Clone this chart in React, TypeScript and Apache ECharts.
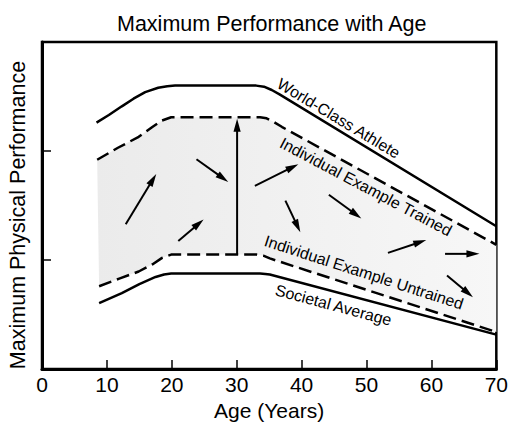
import React, { useEffect, useRef } from "react";
import * as echarts from "echarts";

const FONT = "'Liberation Sans', Arial, sans-serif";

const xTicks = [0, 10, 20, 30, 40, 50, 60, 70];

const worldAge = [8.4, 10.3, 12.3, 14.1, 15.9, 17.9, 19.3, 20.5, 33, 34.2, 35.4, 36.6, 70];
const worldPerf = [2.26, 2.33, 2.41, 2.48, 2.54, 2.58, 2.595, 2.6, 2.6, 2.59, 2.56, 2.52, 1.31];

const trainedAge = [8.5, 11.7, 14.9, 17, 18.5, 19.9, 33.6, 34.6, 35.6, 37, 70];
const trainedPerf = [1.92, 2.03, 2.13, 2.22, 2.28, 2.31, 2.31, 2.3, 2.27, 2.22, 1.14];

const untrainedAge = [8.8, 11.9, 14.9, 17, 18.5, 19.9, 33.1, 34.1, 35.1, 70];
const untrainedPerf = [0.76, 0.83, 0.895, 0.96, 1.02, 1.05, 1.05, 1.04, 1.015, 0.34];

const societalAge = [8.8, 12.3, 15, 17.5, 18.8, 19.9, 33.6, 34.4, 35.1, 70];
const societalPerf = [0.605, 0.696, 0.78, 0.845, 0.868, 0.876, 0.876, 0.873, 0.867, 0.316];

// arrows: tail (age, perf) -> tip (age, perf)
const arrowTailAge = [12.9, 23.8, 30.06, 21.0, 32.8, 37.5, 44.2, 53.3, 62.1, 62.4];
const arrowTailPerf = [1.328, 1.925, 1.05, 1.175, 1.681, 1.545, 1.599, 1.066, 1.057, 0.858];
const arrowTipAge = [17.6, 28.7, 30.06, 24.9, 39.5, 39.8, 49.2, 59.2, 67.4, 66.4];
const arrowTipPerf = [1.789, 1.717, 2.295, 1.373, 1.879, 1.256, 1.382, 1.184, 1.057, 0.66];

const labelNames = [
  "World-Class Athlete",
  "Individual Example Trained",
  "Individual Example Untrained",
  "Societal Average",
];
const labelAge = [45.7, 49.9, 49.6, 44.9];
const labelPerf = [2.3, 1.672, 0.886, 0.587];
const labelAngle = [31, 28, 18, 15];

const zip = (a: number[], b: number[]) => a.map((v, i) => [v, b[i]]);

export default function App() {
  const ref = useRef<HTMLDivElement>(null);
  useEffect(() => {
    document.body.style.margin = "0";
    const chart = echarts.init(ref.current!, null, { renderer: "svg" });
    const lineBase = {
      type: "line",
      symbol: "none",
      smooth: false,
      z: 5,
    };
    chart.setOption({
      animation: false,
      backgroundColor: "#fff",
      title: {
        text: "Maximum Performance with Age",
        left: 112,
        top: 8,
        textStyle: { fontSize: 21.5, fontWeight: "normal", color: "#000", fontFamily: FONT },
      },
      grid: {
        left: 42,
        right: 8,
        top: 42,
        bottom: 52,
        show: true,
        borderColor: "#000",
        borderWidth: 2.5,
        containLabel: false,
      },
      xAxis: {
        type: "value",
        min: 0,
        max: 70,
        interval: 10,
        name: "Age (Years)",
        nameLocation: "middle",
        nameGap: 30,
        nameTextStyle: { fontSize: 21, color: "#000", fontFamily: FONT },
        axisLine: { lineStyle: { color: "#000", width: 3 } },
        axisTick: { inside: true, length: 9, lineStyle: { color: "#000", width: 1.5 } },
        axisLabel: {
          fontSize: 21,
          color: "#000",
          fontFamily: FONT,
          margin: 5,
          formatter: (v: number) => (xTicks.includes(v) ? String(v) : ""),
        },
        splitLine: { show: false },
      },
      yAxis: {
        type: "value",
        min: 0,
        max: 3,
        interval: 1,
        axisLine: { show: true, lineStyle: { color: "#000", width: 3 } },
        axisTick: { show: true, inside: true, length: 9, lineStyle: { color: "#000", width: 1.5 } },
        axisLabel: { show: false },
        splitLine: { show: false },
      },
      graphic: [
        {
          type: "text",
          x: 18,
          y: 215,
          rotation: Math.PI / 2,
          style: {
            text: "Maximum Physical Performance",
            fontSize: 21.5,
            fontFamily: FONT,
            fill: "#000",
            align: "center",
            verticalAlign: "middle",
          },
        },
      ],
      series: [
        {
          type: "custom",
          z: 1,
          data: [0],
          renderItem: (_p: any, api: any) => {
            const pts: number[][] = [];
            for (let i = 0; i < trainedAge.length; i++) pts.push(api.coord([trainedAge[i], trainedPerf[i]]));
            for (let i = untrainedAge.length - 1; i >= 0; i--)
              pts.push(api.coord([untrainedAge[i], untrainedPerf[i]]));
            return {
              type: "polygon",
              shape: { points: pts },
              style: {
                fill: {
                  type: "linear",
                  x: 0,
                  y: 0,
                  x2: 1,
                  y2: 0,
                  colorStops: [
                    { offset: 0, color: "#ebebeb" },
                    { offset: 1, color: "#f7f7f7" },
                  ],
                },
              },
            };
          },
        },
        {
          ...lineBase,
          name: "World-Class Athlete",
          data: zip(worldAge, worldPerf),
          lineStyle: { color: "#000", width: 2.5 },
        },
        {
          ...lineBase,
          name: "Individual Example Trained",
          data: zip(trainedAge, trainedPerf),
          lineStyle: { color: "#000", width: 2.5, type: [13, 6] },
        },
        {
          ...lineBase,
          name: "Individual Example Untrained",
          data: zip(untrainedAge, untrainedPerf),
          lineStyle: { color: "#000", width: 2.5, type: [13, 6] },
        },
        {
          ...lineBase,
          name: "Societal Average",
          data: zip(societalAge, societalPerf),
          lineStyle: { color: "#000", width: 2.5 },
        },
        {
          type: "custom",
          z: 6,
          encode: { x: [0, 2], y: [1, 3] },
          data: arrowTailAge.map((v, i) => [v, arrowTailPerf[i], arrowTipAge[i], arrowTipPerf[i]]),
          renderItem: (_p: any, api: any) => {
            const p1 = api.coord([api.value(0), api.value(1)]);
            const p2 = api.coord([api.value(2), api.value(3)]);
            const dx = p2[0] - p1[0];
            const dy = p2[1] - p1[1];
            const len = Math.hypot(dx, dy) || 1;
            const ux = dx / len;
            const uy = dy / len;
            const hl = 13;
            const hw = 3.6;
            const bx = p2[0] - ux * hl;
            const by = p2[1] - uy * hl;
            return {
              type: "group",
              children: [
                {
                  type: "line",
                  shape: { x1: p1[0], y1: p1[1], x2: bx + ux * 3, y2: by + uy * 3 },
                  style: { stroke: "#000", lineWidth: 2 },
                },
                {
                  type: "polygon",
                  shape: {
                    points: [
                      [p2[0], p2[1]],
                      [bx - uy * hw, by + ux * hw],
                      [bx + uy * hw, by - ux * hw],
                    ],
                  },
                  style: { fill: "#000" },
                },
              ],
            };
          },
        },
        {
          type: "custom",
          z: 7,
          data: labelAge.map((v, i) => [v, labelPerf[i], labelAngle[i], i]),
          renderItem: (_p: any, api: any) => {
            const p = api.coord([api.value(0), api.value(1)]);
            const idx = api.value(3);
            return {
              type: "text",
              x: p[0],
              y: p[1],
              rotation: (-api.value(2) * Math.PI) / 180,
              style: {
                text: labelNames[idx],
                fontSize: 16,
                fontFamily: FONT,
                fill: "#000",
                align: "center",
                verticalAlign: "middle",
              },
            };
          },
        },
      ],
    });
    return () => chart.dispose();
  }, []);
  return <div ref={ref} style={{ width: 511, height: 426 }} />;
}
